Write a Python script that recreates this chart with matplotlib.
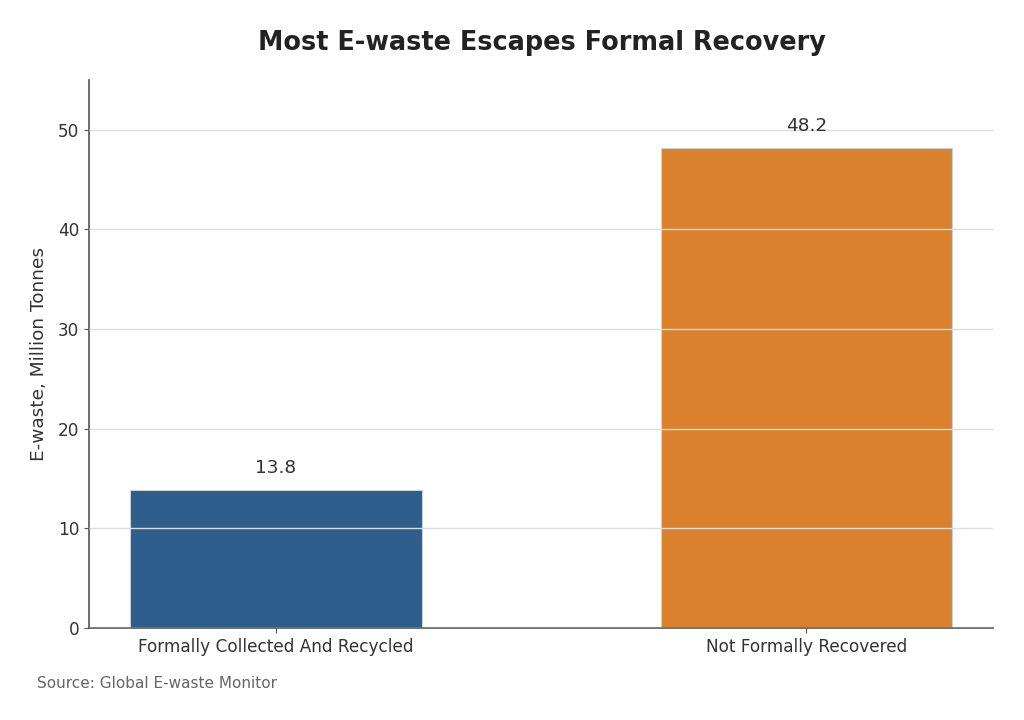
import matplotlib.pyplot as plt

plt.rcParams['font.family'] = ['DejaVu Sans']

categories = ['Formally Collected And Recycled', 'Not Formally Recovered']
values = [13.8, 48.2]
colors = ['#2e5e8b', '#d9812c']

fig = plt.figure(figsize=(10.24, 7.2), dpi=100)
ax = fig.add_axes([0.087, 0.128, 0.883, 0.761])

x = range(len(categories))
bars = ax.bar(x, values, width=0.55, color=colors, edgecolor='#c8d0d8', linewidth=0.8, zorder=2)
ax.set_xticks(list(x))
ax.set_xticklabels(categories, fontsize=12.2, color='#333333')
ax.set_ylim(0, 55)
ax.set_yticks([0, 10, 20, 30, 40, 50])
ax.tick_params(axis='y', labelsize=12.2, colors='#555555', labelcolor='#333333')
ax.tick_params(axis='x', colors='#555555', labelcolor='#333333')

ax.yaxis.grid(True, color='#dddddd', linewidth=1.0, zorder=3)
ax.set_axisbelow(False)
for s in ['top', 'right']:
    ax.spines[s].set_visible(False)
for s in ['left', 'bottom']:
    ax.spines[s].set_color('#555555')
    ax.spines[s].set_linewidth(1.2)

for b, v in zip(bars, values):
    ax.text(b.get_x() + b.get_width() / 2, v + 1.3, f'{v:.1f}', ha='center', va='bottom',
            fontsize=13.3, color='#333333')

ax.set_ylabel('E-waste, Million Tonnes', fontsize=13.3, color='#333333', labelpad=7)
fig.suptitle('Most E-waste Escapes Formal Recovery', fontsize=18.4, fontweight='bold',
             color='#222222', x=0.529, y=0.958)
fig.text(0.036, 0.045, 'Source: Global E-waste Monitor', fontsize=11, color='#666666')

fig.savefig('out.png', dpi=100)
